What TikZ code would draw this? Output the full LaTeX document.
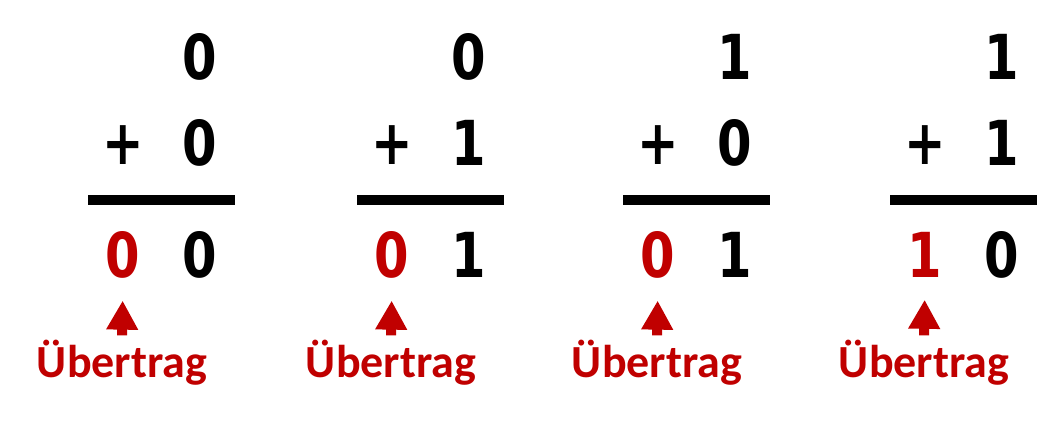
\documentclass[tikz,border=0pt]{standalone}
\usepackage{fontspec}
\setmainfont{Carlito}
\newfontfamily\digitfont{DejaVu Sans}
\usetikzlibrary{arrows.meta}
\definecolor{carryred}{HTML}{C00000}
\newcommand{\narrowdig}[1]{\scalebox{0.8}[1]{#1}}
\tikzset{
  dig/.style={inner sep=0pt, font=\digitfont\bfseries\fontsize{62}{62}\selectfont, text=black},
  cdig/.style={dig, text=carryred},
  rulebar/.style={line width=10pt, black},
  carrylbl/.style={inner sep=0pt, anchor=base, font=\bfseries\fontsize{46}{46}\selectfont, text=carryred},
  carryarrow/.style={line width=10pt, carryred, -{Triangle[width=30pt,length=29pt]}, shorten >=22pt, shorten <=4pt}
}
\begin{document}
\begin{tikzpicture}[x=1pt,y=-1pt]
\useasboundingbox (0,0) rectangle (1063,421);
\foreach \i/\x/\a/\b/\c/\d in {1/123/0/0/0/0, 2/392/0/1/0/1, 3/658/1/0/0/1, 4/925/1/1/1/0}{
  \node[dig] (t\i) at (\x+77,57) {\narrowdig{\a}};
  \node[dig] (p\i) at (\x,145) {\narrowdig{+}};
  \node[dig] (m\i) at (\x+77,143) {\narrowdig{\b}};
  \coordinate (l\i) at (\x-35,200);
  \coordinate (r\i) at (\x+112,200);
  \draw[rulebar] (l\i) -- (r\i);
  \node[cdig] (c\i) at (\x,255) {\narrowdig{\c}};
  \node[dig] (s\i) at (\x+77,255) {\narrowdig{\d}};
  \node[carrylbl] (u\i) at (\x-1,377) {Übertrag};
  \draw[carryarrow] (u\i.north) -- (c\i.south);
}
\end{tikzpicture}
\end{document}
